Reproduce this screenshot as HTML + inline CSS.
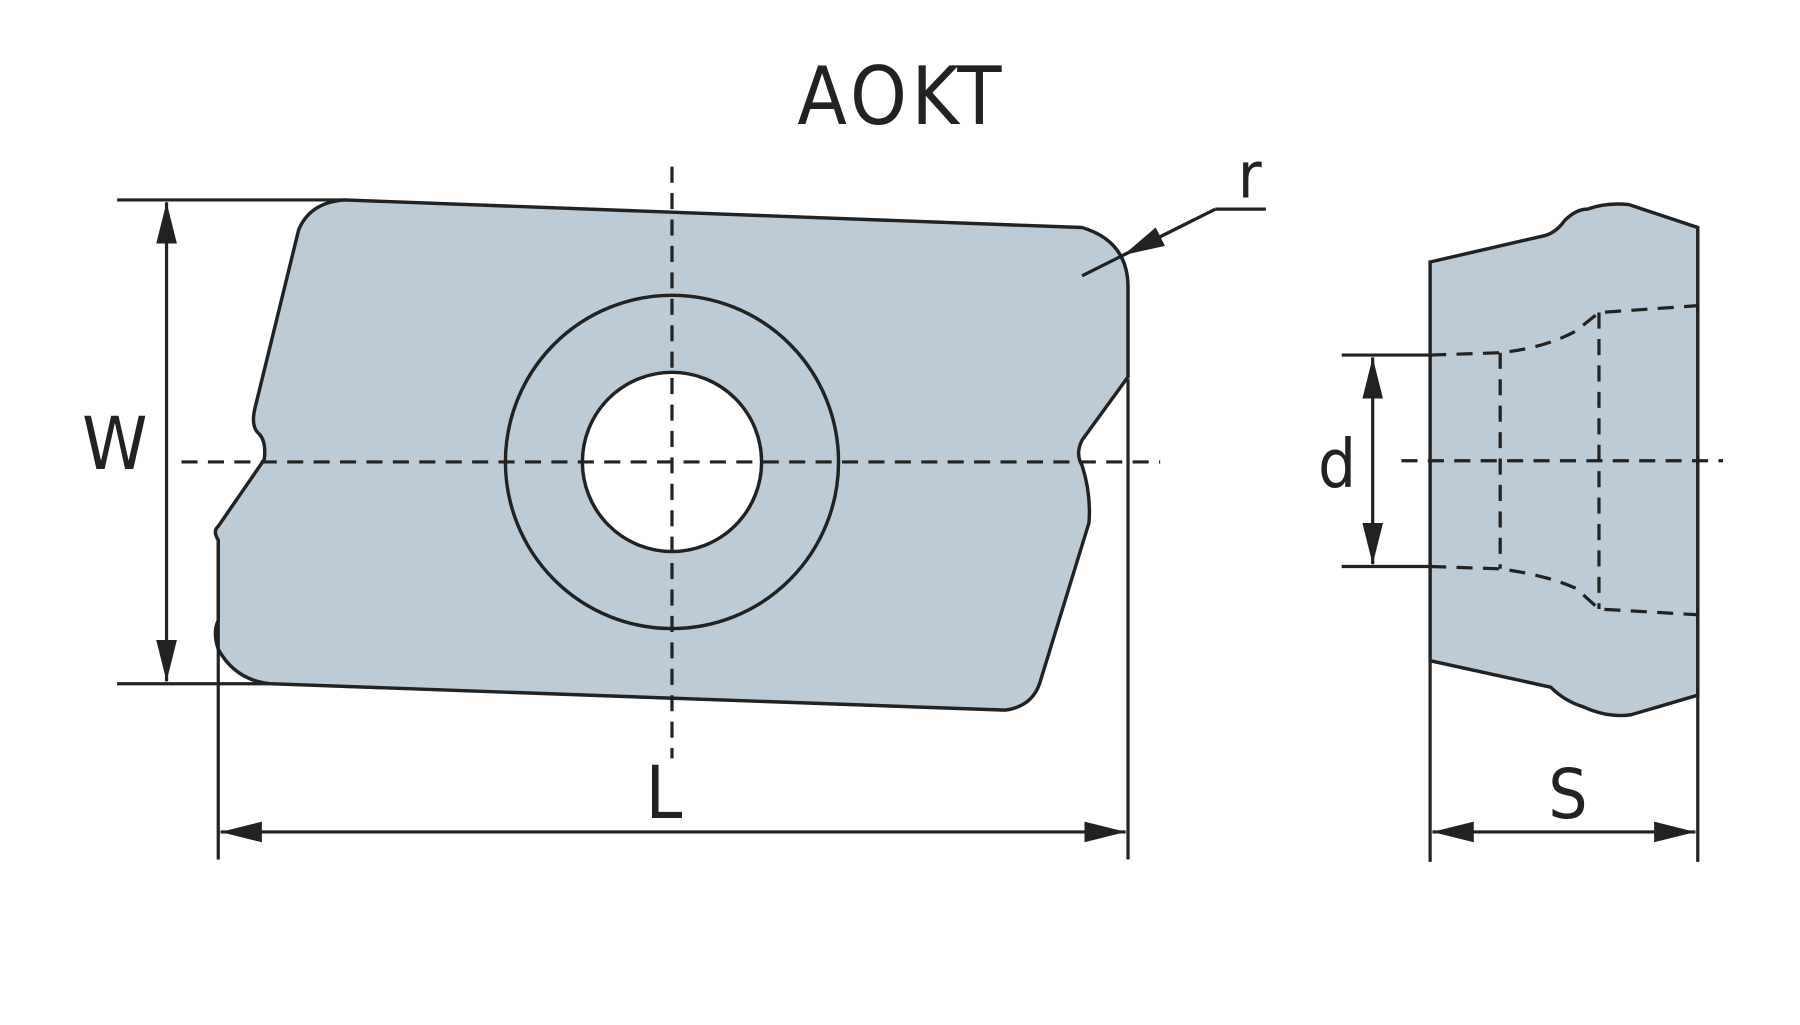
<!DOCTYPE html>
<html><head><meta charset="utf-8"><style>
html,body{margin:0;padding:0;background:#fff;}
svg{display:block;}
text{font-family:"DejaVu Sans Condensed","Liberation Sans",sans-serif;fill:#222;}
</style></head><body>
<svg width="1800" height="1025" viewBox="0 0 1567 892" preserveAspectRatio="none" xmlns="http://www.w3.org/2000/svg">
<defs>
<marker id="a" viewBox="0 0 36 18" refX="36" refY="9" markerWidth="36" markerHeight="18" markerUnits="userSpaceOnUse" orient="auto-start-reverse">
<path d="M0,0 L36,9 L0,18 Z" fill="#222"/></marker>
</defs>
<rect width="1567" height="892" fill="#fff"/>
<text x="785" y="108" font-size="70" text-anchor="middle" letter-spacing="4">AOKT</text>
<path d="M300,174 L942,198 Q982,210 982,250 L982,328 L942,383 Q936,395 942,405 Q950,430 948,455 L905,595 Q898,615 875,618 L235,595 Q205,592 190,565 Q185,550 190,540 L190,470 Q185,462 190,458 L230,400 Q232,385 226,378 Q218,372 222,355 L260,200 Q270,176 300,174 Z" fill="#bccbd5" stroke="#222" stroke-width="3"/>
<circle cx="585" cy="402" r="145" fill="none" stroke="#222" stroke-width="3"/>
<circle cx="585" cy="402" r="78" fill="#fff" stroke="#222" stroke-width="3"/>
<line x1="585" y1="145" x2="585" y2="660" stroke="#222" stroke-width="2.8" stroke-dasharray="14,9"/>
<line x1="158" y1="402" x2="1010" y2="402" stroke="#222" stroke-width="2.8" stroke-dasharray="14,9"/>
<line x1="102" y1="174" x2="300" y2="174" stroke="#222" stroke-width="2.8"/>
<line x1="102" y1="595" x2="235" y2="595" stroke="#222" stroke-width="2.8"/>
<line x1="145" y1="176" x2="145" y2="593" stroke="#222" stroke-width="2.8" marker-start="url(#a)" marker-end="url(#a)"/>
<text x="100" y="408" font-size="64" text-anchor="middle">W</text>
<line x1="190" y1="470" x2="190" y2="748" stroke="#222" stroke-width="2.8"/>
<line x1="982" y1="330" x2="982" y2="748" stroke="#222" stroke-width="2.8"/>
<line x1="192" y1="724" x2="980" y2="724" stroke="#222" stroke-width="2.8" marker-start="url(#a)" marker-end="url(#a)"/>
<text x="578" y="712" font-size="64" text-anchor="middle">L</text>
<line x1="942" y1="240" x2="1058" y2="182" stroke="#222" stroke-width="2.8"/>
<line x1="1058" y1="182" x2="1102" y2="182" stroke="#222" stroke-width="2.8"/>
<line x1="1040" y1="191" x2="978" y2="222" stroke="#222" stroke-width="2.8" marker-end="url(#a)"/>
<text x="1088" y="172" font-size="56" text-anchor="middle">r</text>
<path d="M1245,228 L1345,205 Q1355,202 1362,192 Q1372,182 1382,182 Q1398,176 1418,178 L1478,198 L1478,605 L1420,622 Q1400,625 1378,615 Q1362,610 1350,598 L1245,575 Z" fill="#bccbd5" stroke="#222" stroke-width="3"/>
<path d="M1245,309 L1305,307 Q1345,303 1372,288 L1392,272 L1478,266" fill="none" stroke="#222" stroke-width="2.8" stroke-dasharray="14,9"/>
<path d="M1245,493 L1305,495 Q1345,500 1372,512 L1392,530 L1478,535" fill="none" stroke="#222" stroke-width="2.8" stroke-dasharray="14,9"/>
<line x1="1306" y1="307" x2="1306" y2="495" stroke="#222" stroke-width="2.8" stroke-dasharray="14,9"/>
<line x1="1392" y1="272" x2="1392" y2="530" stroke="#222" stroke-width="2.8" stroke-dasharray="14,9"/>
<line x1="1220" y1="401" x2="1500" y2="401" stroke="#222" stroke-width="2.8" stroke-dasharray="14,9"/>
<line x1="1168" y1="309" x2="1245" y2="309" stroke="#222" stroke-width="2.8"/>
<line x1="1168" y1="493" x2="1245" y2="493" stroke="#222" stroke-width="2.8"/>
<line x1="1195" y1="311" x2="1195" y2="491" stroke="#222" stroke-width="2.8" marker-start="url(#a)" marker-end="url(#a)"/>
<text x="1164" y="424" font-size="58" text-anchor="middle">d</text>
<line x1="1245" y1="575" x2="1245" y2="750" stroke="#222" stroke-width="2.8"/>
<line x1="1478" y1="605" x2="1478" y2="750" stroke="#222" stroke-width="2.8"/>
<line x1="1247" y1="724" x2="1476" y2="724" stroke="#222" stroke-width="2.8" marker-start="url(#a)" marker-end="url(#a)"/>
<text x="1365" y="712" font-size="60" text-anchor="middle">S</text>
</svg>
</body></html>
